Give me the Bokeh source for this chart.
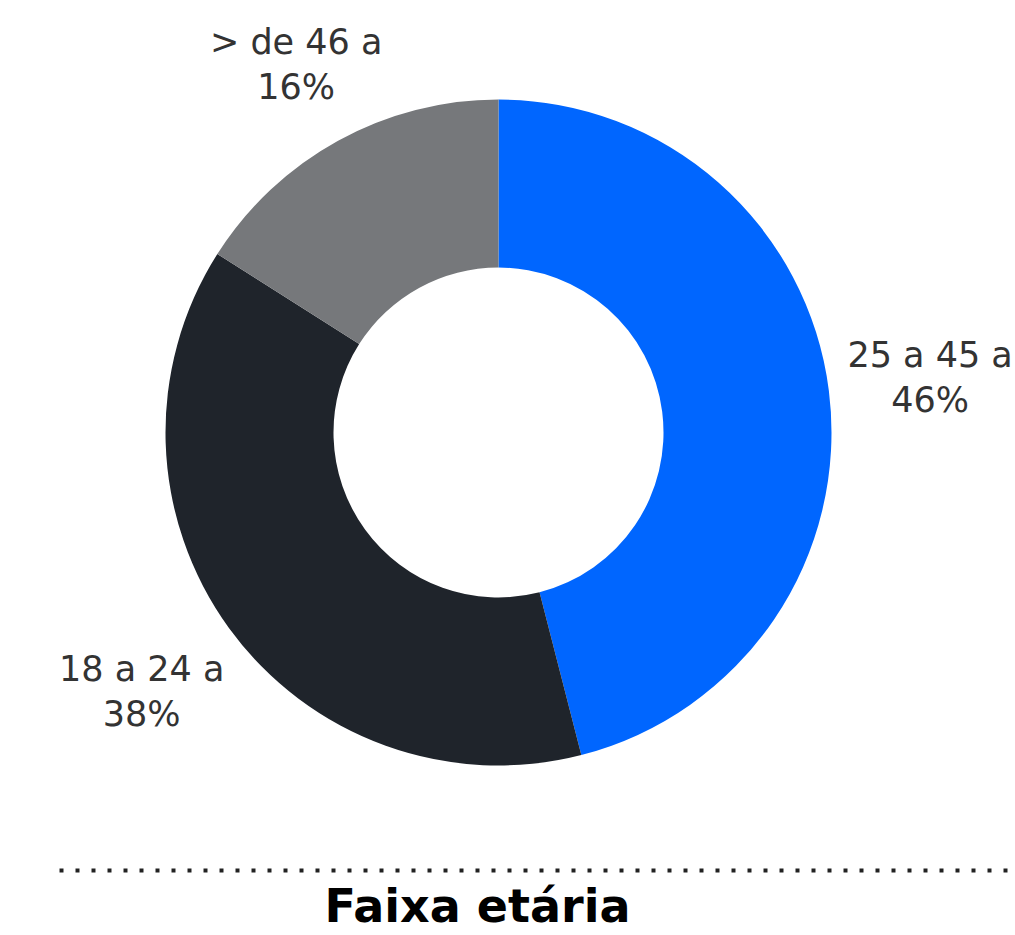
import math
from bokeh.plotting import figure
from bokeh.models import Range1d, ColumnDataSource
from bokeh.core.properties import value
from bokeh.embed import file_html
from bokeh.resources import INLINE

# ---- data ----
categories = ["25 a 45 a", "18 a 24 a", "> de 46 a"]
percents = [46, 38, 16]
colors = ["#0066FF", "#1F242B", "#76787B"]
title_text = "Faixa etária"

# ---- layout ----
W, H = 1015, 935
cx, cy = 498, 503          # donut centre (data units = px)
r_in, r_out = 165, 333
label_r = [435, 441, 420]
LBL_SIZE = 35
TTL_SIZE = 46
BASE_FIX = 0.37            # empirical shift of the svg alphabetic baseline (em)

p = figure(width=W, height=H, x_range=Range1d(0, W), y_range=Range1d(0, H),
           output_backend="svg", toolbar_location=None, min_border=0)
p.axis.visible = False
p.grid.visible = False
p.outline_line_color = None
p.background_fill_color = "white"

total = sum(percents)
starts, ends, mids = [], [], []
a = math.pi / 2
for v in percents:
    sweep = v / total * 2 * math.pi
    starts.append(a)
    ends.append(a - sweep)
    mids.append(a - sweep / 2)
    a -= sweep

src = ColumnDataSource(dict(start=starts, end=ends, color=colors))
p.annular_wedge(x=cx, y=cy, inner_radius=r_in, outer_radius=r_out,
                start_angle="start", end_angle="end", direction="clock",
                fill_color="color", line_color=None, source=src)

fix = BASE_FIX * LBL_SIZE
lx = [cx + r * math.cos(m) for r, m in zip(label_r, mids)]
ly = [cy + r * math.sin(m) for r, m in zip(label_r, mids)]
p.text(x=lx, y=[y + 10 + fix for y in ly], text=categories,
       text_font=value("DejaVu Sans"), text_font_size=f"{LBL_SIZE}px", text_color="#333333",
       text_align="center", text_baseline="alphabetic")
p.text(x=lx, y=[y - 35 + fix for y in ly], text=[f"{v}%" for v in percents],
       text_font=value("DejaVu Sans"), text_font_size=f"{LBL_SIZE}px", text_color="#333333",
       text_align="center", text_baseline="alphabetic")

# dotted separator
p.line(x=[59, 1015], y=[65, 65], line_color="#222222", line_width=4, line_dash="4 12")

# title
p.text(x=[477], y=[12 + BASE_FIX * TTL_SIZE], text=[title_text], text_font=value("DejaVu Sans"),
       text_font_style="bold", text_font_size=f"{TTL_SIZE}px", text_color="#000000",
       text_align="center", text_baseline="alphabetic")

open("out.html", "w").write(file_html(p, INLINE))
